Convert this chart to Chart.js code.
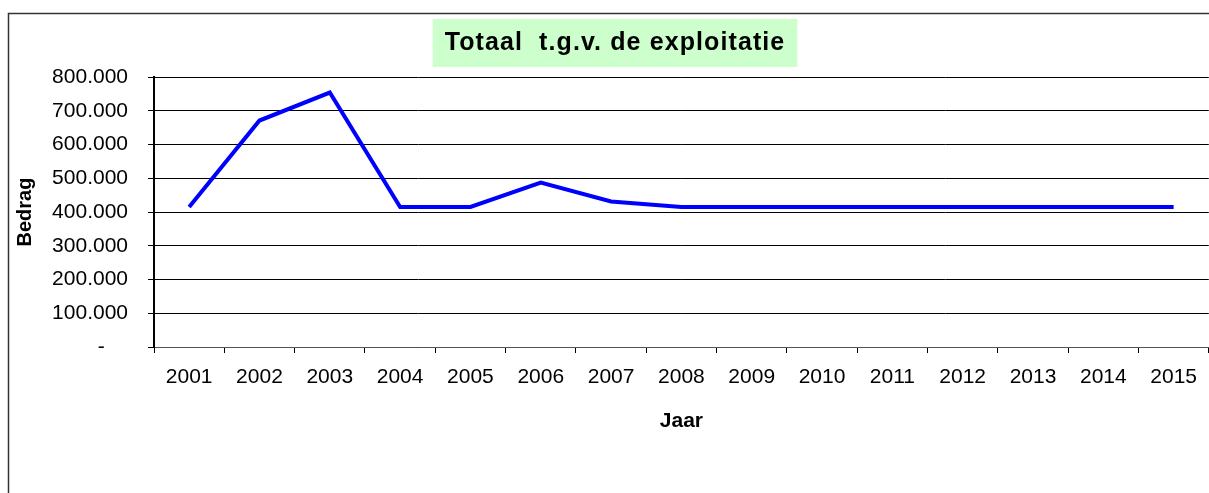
<!DOCTYPE html>
<html>
<head>
<meta charset="utf-8">
<script src="https://cdn.jsdelivr.net/npm/chart.js@4"></script>
<style>
    body { margin: 0; background: #fff; }
    canvas { display: block; }
</style>
</head>
<body>
<canvas id="chart" width="1209" height="493"></canvas>
<script>
// Totaal t.g.v. de exploitatie, per jaar
const years = ['2001', '2002', '2003', '2004', '2005', '2006', '2007', '2008',
               '2009', '2010', '2011', '2012', '2013', '2014', '2015'];
const totals = [415000, 671000, 754000, 415000, 415000, 487000, 431000, 415000,
                415000, 415000, 415000, 415000, 415000, 415000, 415000];
const chartTitle = 'Totaal  t.g.v. de exploitatie';
const xTitle = 'Jaar';
const yTitle = 'Bedrag';

const titleSpacing = '1.1px';

// 800000 -> "800.000", 0 -> "-"
function formatBedrag(v) {
    if (v === 0) return '-    ';
    return String(v).replace(/\B(?=(\d{3})+(?!\d))/g, '.');
}

// kader om de grafiek, groene achtergrond en letterafstand van de titel
const decor = {
    id: 'decor',
    afterLayout(chart) {
        const tb = chart.titleBlock;
        if (tb && !tb._spaced) {
            const orig = tb.draw.bind(tb);
            tb.draw = function () {
                chart.ctx.save();
                chart.ctx.letterSpacing = titleSpacing;
                orig();
                chart.ctx.restore();
            };
            tb._spaced = true;
        }
    },
    beforeDraw(chart) {
        const ctx = chart.ctx;
        ctx.save();
        ctx.strokeStyle = '#333';
        ctx.lineWidth = 1.5;
        ctx.beginPath();
        ctx.moveTo(8.5, 493);
        ctx.lineTo(8.5, 13.5);
        ctx.lineTo(1209, 13.5);
        ctx.stroke();

        const t = chart.titleBlock;
        ctx.font = 'bold 25px Arial, "Liberation Sans", sans-serif';
        ctx.letterSpacing = titleSpacing;
        const w = ctx.measureText(chartTitle).width;
        const cx = (t.left + t.right) / 2;
        ctx.fillStyle = '#ccffcc';
        ctx.fillRect(cx - w / 2 - 12, 19, w + 24, 48);
        ctx.restore();
    }
};

new Chart(document.getElementById('chart'), {
    type: 'line',
    data: {
        labels: years,
        datasets: [{
            data: totals,
            borderColor: '#0000ff',
            borderWidth: 4,
            pointRadius: 0,
            tension: 0,
            fill: false
        }]
    },
    options: {
        responsive: false,
        animation: false,
        layout: { padding: { left: 17, right: -4, top: 0, bottom: 0 } },
        plugins: {
            legend: { display: false },
            tooltip: { enabled: false },
            title: {
                display: true,
                text: chartTitle,
                color: '#000',
                font: { family: 'Arial, "Liberation Sans", sans-serif', size: 25, weight: 'bold' },
                padding: { top: 28, bottom: 19 }
            }
        },
        scales: {
            x: {
                type: 'category',
                offset: true,
                grid: { offset: true, drawOnChartArea: false, drawTicks: true, tickLength: 6, color: '#000' },
                border: { display: true, color: '#555', width: 1 },
                ticks: {
                    color: '#000',
                    padding: 12,
                    maxRotation: 0,
                    font: { family: 'Arial, "Liberation Sans", sans-serif', size: 21 }
                },
                title: {
                    display: true,
                    text: xTitle,
                    color: '#000',
                    font: { family: 'Arial, "Liberation Sans", sans-serif', size: 21, weight: 'bold' },
                    padding: { top: 0, bottom: 59 }
                },
                afterFit(scale) { scale.height = 146; }
            },
            y: {
                min: 0,
                max: 800000,
                ticks: {
                    stepSize: 100000,
                    color: '#000',
                    padding: 20,
                    font: { family: 'Arial, "Liberation Sans", sans-serif', size: 21 },
                    callback: v => formatBedrag(v)
                },
                grid: { color: '#000', lineWidth: 1, drawTicks: true, tickLength: 6 },
                border: { display: true, color: '#000', width: 2 },
                title: {
                    display: true,
                    text: yTitle,
                    color: '#000',
                    font: { family: 'Arial, "Liberation Sans", sans-serif', size: 20, weight: 'bold' },
                    padding: { top: -4, bottom: 0 }
                },
                afterFit(scale) { scale.width = 137; }
            }
        }
    },
    plugins: [decor]
});
</script>
</body>
</html>
